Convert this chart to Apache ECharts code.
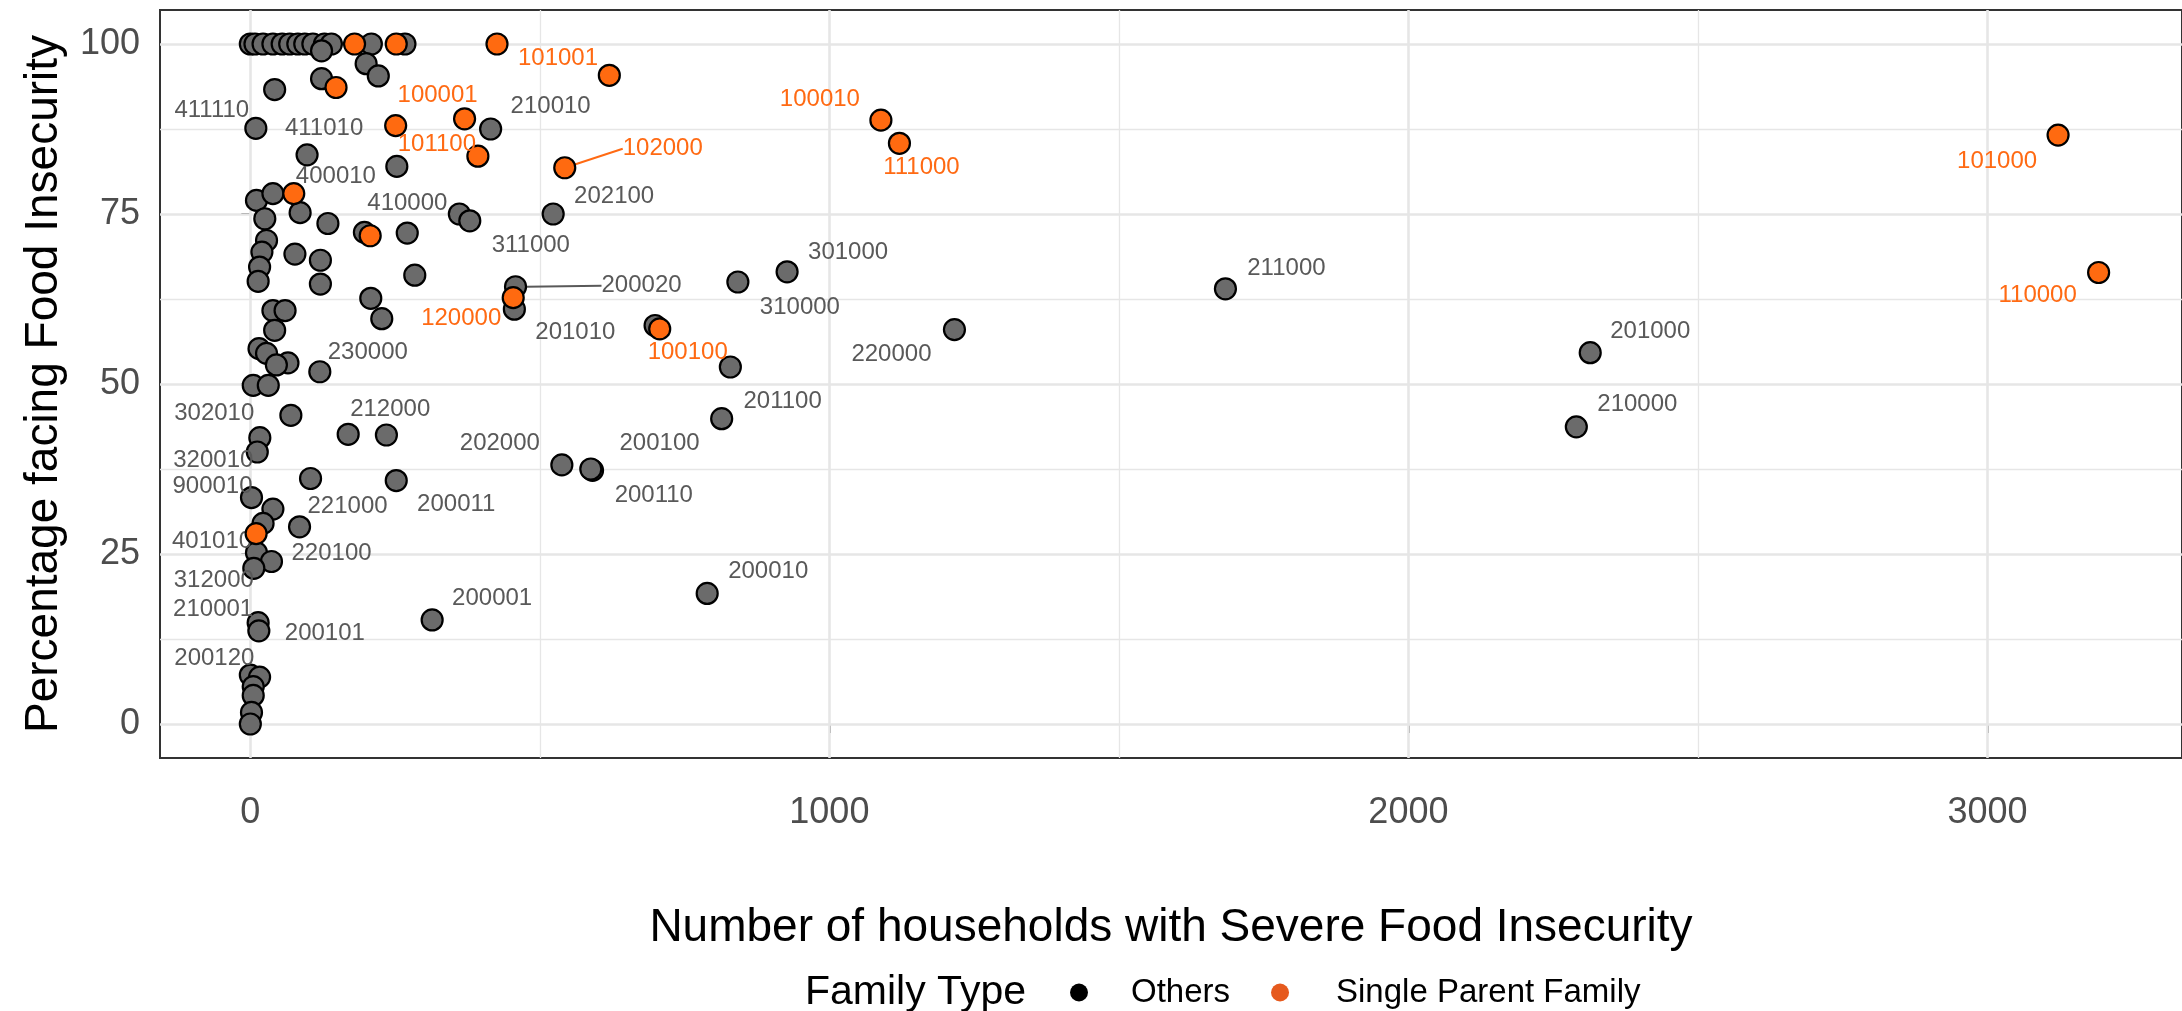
<!DOCTYPE html>
<html>
<head>
<meta charset="utf-8">
<script src="https://cdn.jsdelivr.net/npm/echarts@6/dist/echarts.min.js"></script>
<style>
  html, body { margin: 0; padding: 0; background: #ffffff; }
  #chart { width: 2182px; height: 1011px; }
</style>
</head>
<body>
<div id="chart"></div>
<script>
// Severe food insecurity by household-composition code, split by family type.

const xTicks = [0, 1000, 2000, 3000];
const yTicks = [0, 25, 50, 75, 100];

// "Others" family types
const othersX = [0, 8, 22, 39, 55, 68, 82, 94, 108, 128, 140, 209, 267, 123,
  200, 221, 123, 42, 9.5, 98, 253, 415,
  10.6, 39, 86, 25, 134, 197, 271, 28, 20, 77, 121, 16, 13.5, 121, 284,
  39, 60, 208, 227, 42, 15, 28, 65, 45, 120, 5, 31, 70, 169, 235, 16.4, 12,
  104, 252, 2, 39, 22, 85, 10.6, 36.5, 6, 13.5, 14.7, 0, 16, 5, 5, 2, 0,
  361, 379, 523, 458, 456, 842, 927, 1684, 699, 1216, 829, 2314, 814, 2290,
  538, 591, 588, 314, 789];
const othersY = [100, 100, 100, 100, 100, 100, 100, 100, 100, 100, 100, 100, 100, 99,
  97.1, 95.3, 94.9, 93.3, 87.6, 83.7, 82, 87.5,
  77, 78, 75.2, 74.3, 73.6, 72.3, 72.2, 71.1, 69.4, 69.1, 68.2, 67.2, 65.1, 64.7, 66,
  60.8, 60.8, 62.6, 59.6, 57.9, 55.2, 54.5, 53.1, 52.8, 51.8, 49.8, 49.8, 45.4, 42.6, 42.5, 42.1, 40,
  36.1, 35.8, 33.3, 31.6, 29.5, 29, 25.2, 23.9, 22.9, 14.9, 13.7, 7.2, 6.9, 5.5, 4.2, 1.7, 0,
  75, 74, 75, 64.3, 61, 65, 66.5, 64, 58.6, 58, 52.5, 54.6, 44.9, 43.7,
  38.1, 37.3, 37.5, 15.3, 19.2];
const othersCode = ['', '', '', '', '', '', '', '', '', '', '', '', '', '',
  '', '', '', '', '411110', '411010', '', '210010',
  '', '400010', '', '', '', '', '', '', '', '', '', '', '', '', '',
  '', '', '', '', '', '', '', '', '', '230000', '302010', '', '', '212000', '', '', '320010',
  '221000', '200011', '900010', '', '401010', '220100', '', '', '312000', '210001', '200101', '200120', '', '', '', '', '',
  '410000', '311000', '202100', '200020', '201010', '310000', '301000', '211000', '', '220000', '', '201000', '201100', '210000',
  '202000', '200100', '200110', '200001', '200010'];

// "Single Parent Family" types
const singleX = [180, 252, 426, 620, 148, 251, 370, 393, 543, 1089, 1121, 3122, 3192, 75, 207, 454, 707, 10];
const singleY = [100, 100, 100, 95.4, 93.6, 88, 89, 83.5, 81.8, 88.8, 85.4, 86.6, 66.4, 78, 71.8, 62.7, 58.1, 28];
const singleCode = ['', '', '101001', '', '', '', '100001', '101100', '102000', '100010', '111000', '101000', '110000',
  '', '', '120000', '100100', ''];

// Repelled label placement (pixel shift of each label centre from its point)
const labelShift = {
  '101001': [61, 14], '100001': [-27, -23], '101100': [-41, -12], '210010': [60, -23],
  '411110': [-44, -18], '411010': [17, -26], '400010': [63, -17], '410000': [-52, -11],
  '311000': [61, 25], '202100': [61, -18], '102000': [98, -19], '100010': [-61, -21],
  '111000': [22, 24], '101000': [-61, 26], '110000': [-61, 23], '201000': [60, -21],
  '210000': [61, -22], '211000': [61, -20], '301000': [61, -19], '310000': [62, 25],
  '220000': [-63, 25], '201100': [61, -17], '200020': [126, -1], '120000': [-52, 21],
  '201010': [61, 23], '100100': [28, 23], '230000': [48, -19], '302010': [-39, 28],
  '212000': [42, -25], '202000': [-62, -22], '200100': [67, -27], '200110': [63, 26],
  '320010': [-44, 8], '900010': [-39, -11], '221000': [37, 28], '200011': [60, 24],
  '401010': [-51, 18], '220100': [32, 27], '312000': [-40, 12], '210001': [-45, -13],
  '200001': [60, -22], '200101': [66, 3], '200120': [-36, -17], '200010': [61, -22]
};
const leaderCodes = ['102000', '200020'];

const FONT = '"Liberation Sans", Arial, Helvetica, sans-serif';
const GREY_FILL = '#6b6b6b';
const ORANGE_FILL = '#ff6a10';
const GREY_TEXT = '#595959';
const ORANGE_TEXT = '#ff6a13';

function points(xs, ys, codes) {
  return xs.map((x, i) => ({
    value: [x, ys[i]],
    name: codes[i],
    label: { show: codes[i] !== '' },
    labelLine: { show: leaderCodes.includes(codes[i]) }
  }));
}

function shiftFor(codes) {
  return function (params) {
    const s = labelShift[codes[params.dataIndex]];
    return s ? { dx: s[0], dy: s[1] } : {};
  };
}

function gridLines(ticks, axisKey) {
  const lines = [];
  for (let i = 0; i < ticks.length; i++) {
    lines.push({ [axisKey]: ticks[i], lineStyle: { width: 2.6 } });
    if (i < ticks.length - 1) {
      lines.push({ [axisKey]: (ticks[i] + ticks[i + 1]) / 2, lineStyle: { width: 1.3 } });
    }
  }
  if (axisKey === 'xAxis') {
    const step = ticks[1] - ticks[0];
    lines.push({ xAxis: ticks[ticks.length - 1] + step / 2, lineStyle: { width: 1.3 } });
  }
  return lines;
}

const plainNumber = v => String(v);

const chart = echarts.init(document.getElementById('chart'), null, { renderer: 'canvas' });

chart.setOption({
  backgroundColor: '#ffffff',
  animation: false,
  textStyle: { fontFamily: FONT },
  grid: {
    left: 160, right: -4, top: 10, bottom: 253,
    show: true, backgroundColor: '#ffffff', borderColor: '#333333', borderWidth: 2
  },
  xAxis: {
    type: 'value', min: -156, max: 3336,
    axisLine: { show: false },
    axisTick: { show: true, length: 9, customValues: xTicks, lineStyle: { color: '#333333', width: 2 } },
    axisLabel: { customValues: xTicks, formatter: plainNumber, fontSize: 36, color: '#4d4d4d', margin: 37, fontFamily: FONT },
    splitLine: { show: false },
    name: 'Number of households with Severe Food Insecurity',
    nameLocation: 'middle', nameGap: 147,
    nameTextStyle: { fontSize: 46, color: '#000000', fontFamily: FONT }
  },
  yAxis: {
    type: 'value', min: -5, max: 105,
    axisLine: { show: false },
    axisTick: { show: true, length: 9, customValues: yTicks, lineStyle: { color: '#333333', width: 2 } },
    axisLabel: { customValues: yTicks, formatter: plainNumber, fontSize: 36, color: '#4d4d4d', margin: 20, fontFamily: FONT },
    splitLine: { show: false },
    name: 'Percentage facing Food Insecurity',
    nameLocation: 'middle', nameGap: 93,
    nameTextStyle: { fontSize: 46, color: '#000000', fontFamily: FONT }
  },
  legend: {
    left: 1065, top: 971,
    itemWidth: 18, itemHeight: 18, itemGap: 41,
    icon: 'circle',
    selectedMode: false,
    textStyle: { fontSize: 33, color: '#000000', fontFamily: FONT },
    data: [
      { name: 'Others', itemStyle: { color: '#000000', borderWidth: 0 }, textStyle: { padding: [0, 0, 0, 38] } },
      { name: 'Single Parent Family', itemStyle: { color: '#e65a1e', borderWidth: 0 }, textStyle: { padding: [0, 0, 0, 42] } }
    ]
  },
  graphic: [{
    type: 'text', left: 805, top: 972,
    style: { text: 'Family Type', fontSize: 41, fill: '#000000', fontFamily: FONT }
  }],
  series: [
    {
      name: 'panel grid',
      type: 'scatter',
      data: [],
      silent: true,
      z: 0,
      markLine: {
        silent: true, z: 1, symbol: ['none', 'none'], animation: false,
        label: { show: false },
        lineStyle: { color: '#e6e6e6', type: 'solid' },
        emphasis: { disabled: true },
        data: gridLines(xTicks, 'xAxis').concat(gridLines(yTicks, 'yAxis'))
      }
    },
    {
      name: 'Others',
      type: 'scatter',
      z: 3,
      symbol: 'circle',
      symbolSize: 21,
      itemStyle: { color: GREY_FILL, borderColor: '#000000', borderWidth: 2.2, opacity: 1 },
      label: {
        position: 'inside', formatter: '{b}', fontSize: 24, color: GREY_TEXT,
        fontFamily: FONT, align: 'center', verticalAlign: 'middle'
      },
      labelLine: { lineStyle: { color: '#595959', width: 2 } },
      labelLayout: shiftFor(othersCode),
      emphasis: { disabled: true },
      data: points(othersX, othersY, othersCode)
    },
    {
      name: 'Single Parent Family',
      type: 'scatter',
      z: 4,
      symbol: 'circle',
      symbolSize: 21,
      itemStyle: { color: ORANGE_FILL, borderColor: '#000000', borderWidth: 2.2, opacity: 1 },
      label: {
        position: 'inside', formatter: '{b}', fontSize: 24, color: ORANGE_TEXT,
        fontFamily: FONT, align: 'center', verticalAlign: 'middle'
      },
      labelLine: { lineStyle: { color: ORANGE_TEXT, width: 2 } },
      labelLayout: shiftFor(singleCode),
      emphasis: { disabled: true },
      data: points(singleX, singleY, singleCode)
    }
  ]
});
</script>
</body>
</html>
